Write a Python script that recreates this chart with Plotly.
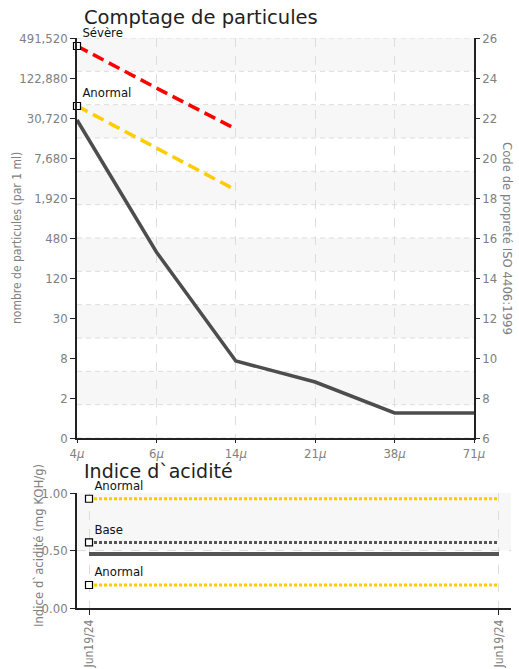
import plotly.graph_objects as go

# ---------------- data ----------------
sizes = ["4<i>μ</i>", "6<i>μ</i>", "14<i>μ</i>", "21<i>μ</i>", "38<i>μ</i>", "71<i>μ</i>"]
iso_codes = [21.9, 15.3, 9.85, 8.8, 7.25, 7.25]
severe_codes = [25.6, 23.5, 21.45]
abnormal_codes = [22.6, 20.5, 18.4]
code_ticks = [6, 8, 10, 12, 14, 16, 18, 20, 22, 24, 26]
count_labels = ["0", "2", "8", "30", "120", "480", "1,920", "7,680", "30,720", "122,880", "491,520"]

acid_dates = ["Jun19/24", "Jun19/24"]
acid_values = [0.47, 0.47]
acid_base = [0.57, 0.57]
acid_high = [0.95, 0.95]
acid_low = [0.20, 0.20]
acid_ticks = [0.0, 0.5, 1.0]
acid_tick_labels = ["0.00", "0.50", "1.00"]

# ---------------- layout helpers ----------------
W, H = 519, 669
def px_x(p): return p / W
def px_y(p): return 1 - p / H

NARROW = "Liberation Sans Narrow, DejaVu Sans Condensed, Roboto Condensed, Arial Narrow, sans-serif"
TITLE_FONT = "DejaVu Sans, Verdana, sans-serif"
GRAY = "#808080"
DARK = "#4d4d4d"
RED = "#ff0000"
YELLOW = "#ffcc00"

xi = list(range(len(sizes)))
acid_x = list(range(len(acid_dates)))

fig = go.Figure()

# main particle line (right axis, ISO code)
fig.add_trace(go.Scatter(x=xi, y=iso_codes, xaxis="x", yaxis="y2", mode="lines",
                         line=dict(color=DARK, width=3.5), showlegend=False, hoverinfo="skip"))
# thresholds
fig.add_trace(go.Scatter(x=xi[:len(severe_codes)], y=severe_codes, xaxis="x", yaxis="y", mode="lines",
                         line=dict(color=RED, width=3.5, dash="12px,6px"), showlegend=False))
fig.add_trace(go.Scatter(x=xi[:len(abnormal_codes)], y=abnormal_codes, xaxis="x", yaxis="y", mode="lines",
                         line=dict(color=YELLOW, width=3.5, dash="12px,6px"), showlegend=False))
fig.add_trace(go.Scatter(x=[xi[0], xi[0]], y=[severe_codes[0], abnormal_codes[0]], xaxis="x", yaxis="y",
                         mode="markers+text", text=["Sévère", "Anormal"], textposition="top right",
                         textfont=dict(family=NARROW, size=13, color="#111"),
                         marker=dict(symbol="square", size=7, color="white", line=dict(color="black", width=1.2)),
                         showlegend=False, cliponaxis=False))

# acid chart
fig.add_trace(go.Scatter(x=acid_x, y=acid_high, xaxis="x2", yaxis="y3", mode="lines",
                         line=dict(color=YELLOW, width=3, dash="3px,2px"), showlegend=False))
fig.add_trace(go.Scatter(x=acid_x, y=acid_base, xaxis="x2", yaxis="y3", mode="lines",
                         line=dict(color="#555555", width=3, dash="3px,2px"), showlegend=False))
fig.add_trace(go.Scatter(x=acid_x, y=acid_values, xaxis="x2", yaxis="y3", mode="lines",
                         line=dict(color="#555555", width=4), showlegend=False))
fig.add_trace(go.Scatter(x=acid_x, y=acid_low, xaxis="x2", yaxis="y3", mode="lines",
                         line=dict(color=YELLOW, width=3, dash="3px,2px"), showlegend=False))
fig.add_trace(go.Scatter(x=[acid_x[0]] * 3, y=[acid_high[0], acid_base[0], acid_low[0]], xaxis="x2", yaxis="y3",
                         mode="markers+text", text=["Anormal", "Base", "Anormal"], textposition="top right",
                         textfont=dict(family=NARROW, size=13, color="#111"),
                         marker=dict(symbol="square", size=7, color="white", line=dict(color="black", width=1.2)),
                         showlegend=False, cliponaxis=False))

# bands and horizontal grid for particle chart (12 equal divisions)
shapes = []
lo, hi = code_ticks[0], code_ticks[-1]
n = 12
step = (hi - lo) / n
for k in range(n):
    if k % 2 == 0:
        shapes.append(dict(type="rect", xref="x domain", yref="y", x0=0, x1=1,
                           y0=hi - (k + 1) * step, y1=hi - k * step,
                           fillcolor="#f7f7f7", line=dict(width=0), layer="below"))
for k in range(n + 1):
    shapes.append(dict(type="line", xref="x domain", yref="y", x0=0, x1=1,
                       y0=lo + k * step, y1=lo + k * step,
                       line=dict(color="#dddddd", width=1, dash="5px,4px"), layer="below"))
# acid band
shapes.append(dict(type="rect", xref="x2 domain", yref="y3", x0=0, x1=1, y0=acid_ticks[1], y1=acid_ticks[2],
                   fillcolor="#f7f7f7", line=dict(width=0), layer="below"))

tickfont = dict(family=NARROW, size=13, color=GRAY)
axis_common = dict(showline=True, linecolor="#222", linewidth=1.5, ticks="outside", ticklen=5,
                   tickcolor="#222", tickfont=tickfont, zeroline=False, automargin=False)

fig.update_layout(
    template="none",
    width=W, height=H, margin=dict(l=0, r=0, t=0, b=0, pad=0),
    paper_bgcolor="white", plot_bgcolor="white", showlegend=False,
    shapes=shapes,
    xaxis=dict(domain=[px_x(77), px_x(474)], anchor="y", range=[0, len(sizes) - 1],
               tickvals=xi, ticktext=sizes, showgrid=True, gridcolor="#dddddd", griddash="dash",
               **{**axis_common, "ticklen": 3}),
    yaxis=dict(domain=[px_y(438), px_y(38)], anchor="x", range=[lo, hi],
               tickvals=code_ticks, ticktext=count_labels, showgrid=False, **axis_common),
    yaxis2=dict(overlaying="y", side="right", anchor="x", range=[lo, hi],
                tickvals=code_ticks, showgrid=False, **{**axis_common, "ticklen": 4}),
    xaxis2=dict(domain=[px_x(77), px_x(511)], anchor="y3", range=[-0.0293, 1.0293],
                tickvals=acid_x, ticktext=acid_dates, tickangle=-90,
                showgrid=True, gridcolor="#dddddd", griddash="dash",
                **{**axis_common, "tickfont": dict(family=NARROW, size=12, color=GRAY)}),
    yaxis3=dict(domain=[px_y(608), px_y(493)], anchor="x2", range=[0, 1],
                tickvals=acid_ticks, ticktext=acid_tick_labels,
                showgrid=True, gridcolor="#dddddd", griddash="dash", **axis_common),
    annotations=[
        dict(text="Comptage de particules", xref="paper", yref="paper", x=px_x(82), y=px_y(17),
             xanchor="left", yanchor="middle", showarrow=False,
             font=dict(family=TITLE_FONT, size=19.5, color="#222")),
        dict(text="Indice d`acidité", xref="paper", yref="paper", x=px_x(82), y=px_y(471),
             xanchor="left", yanchor="middle", showarrow=False,
             font=dict(family=TITLE_FONT, size=19, color="#222")),
        dict(text="nombre de particules (par 1 ml)", xref="paper", yref="paper", x=px_x(17), y=px_y(238),
             xanchor="center", yanchor="middle",
             textangle=-90, showarrow=False, font=dict(family=NARROW, size=12, color=GRAY)),
        dict(text="Code de propreté ISO 4406:1999", xref="paper", yref="paper", x=px_x(508), y=px_y(238),
             xanchor="center", yanchor="middle",
             textangle=90, showarrow=False, font=dict(family=NARROW, size=13, color=GRAY)),
        dict(text="Indice d`acidité (mg KOH/g)", xref="paper", yref="paper", x=px_x(38), y=px_y(546),
             xanchor="center", yanchor="middle",
             textangle=-90, showarrow=False, font=dict(family=NARROW, size=13, color=GRAY)),
    ],
)

fig.write_html("out.html", config={"displayModeBar": False},
               post_script="document.body.style.margin='0px';document.body.style.padding='0px';")
